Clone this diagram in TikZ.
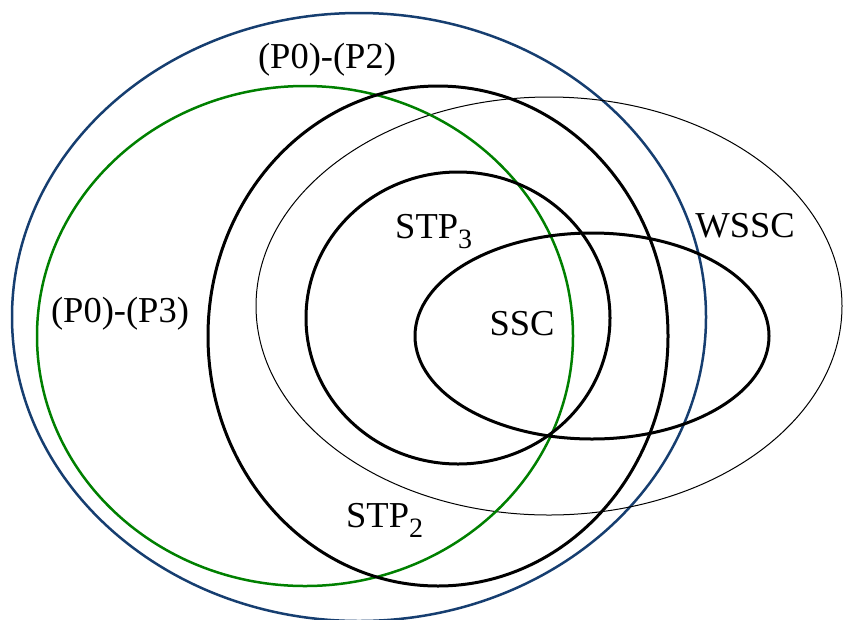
\documentclass[tikz,border=0pt]{standalone}
\usepackage{fontspec}
\setmainfont{Liberation Serif}
\definecolor{pblue}{RGB}{22,62,112}
\definecolor{pgreen}{RGB}{0,128,0}
\newcommand\mysub[1]{\raisebox{-10pt}{\fontsize{28}{30}\selectfont #1}}
\begin{document}
\begin{tikzpicture}[x=1pt,y=-1pt,
  lbl/.style={inner sep=0pt, font=\fontsize{36.5}{40}\selectfont},
  blueset/.style={draw=pblue, line width=2.5pt},
  greenset/.style={draw=pgreen, line width=2.5pt},
  blackset/.style={draw=black, line width=3pt},
  thinset/.style={draw=black, line width=1pt}]
\useasboundingbox (0,0) rectangle (845,619);
% sets
\draw[blueset]  (359,317) ellipse [x radius=347pt, y radius=304pt];
\draw[thinset]  (549,306) ellipse [x radius=293pt, y radius=209pt];
\draw[greenset] (305,336) ellipse [x radius=268pt, y radius=250pt];
\draw[blackset] (438,336) ellipse [x radius=230pt, y radius=250pt];
\draw[blackset] (458,318) ellipse [x radius=152pt, y radius=146pt];
\draw[blackset] (592,336) ellipse [x radius=177pt, y radius=103pt];
% labels
\node[lbl, anchor=base] (p02) at (327,68) {(P0)-(P2)};
\node[lbl, anchor=base] (p03) at (120,322) {(P0)-(P3)};
\node[lbl, anchor=base west] (stp3) at (395,238) {STP\mysub{3}};
\node[lbl, anchor=base] (ssc) at (522,335) {SSC};
\node[lbl, anchor=base] (wssc) at (745,237) {WSSC};
\node[lbl, anchor=base west] (stp2) at (346,527) {STP\mysub{2}};
\end{tikzpicture}
\end{document}
